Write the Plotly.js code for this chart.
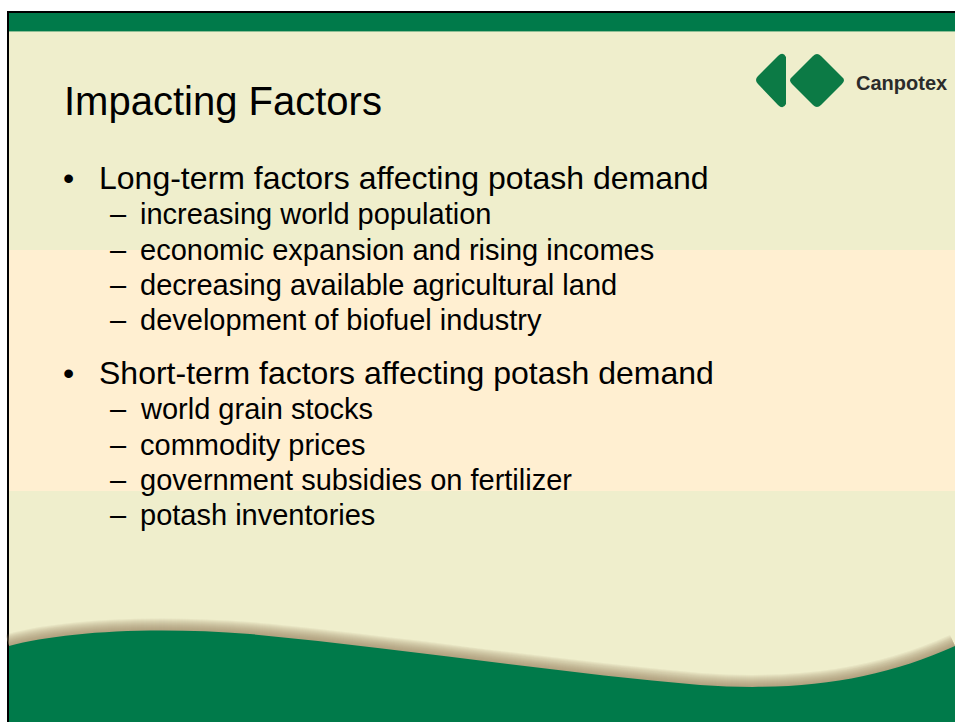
<!DOCTYPE html>
<html>
<head>
<meta charset="utf-8">
<script src="https://cdn.plot.ly/plotly-3.0.1.min.js"></script>
<style>
html,body{margin:0;padding:0;background:#fff;}
#slide{width:955px;height:722px;}
</style>
</head>
<body>
<div id="slide"></div>
<script>
// ---- content (data) ----
const slideTitle = "Impacting Factors";
const brandName = "Canpotex";
const groupHeadings = [
  "Long-term factors affecting potash demand",
  "Short-term factors affecting potash demand"
];
const longTermFactors = [
  "increasing world population",
  "economic expansion and rising incomes",
  "decreasing available agricultural land",
  "development of biofuel industry"
];
const shortTermFactors = [
  "world grain stocks",
  "commodity prices",
  "government subsidies on fertilizer",
  "potash inventories"
];
const factorGroups = [longTermFactors, shortTermFactors];

// ---- styling / layout ----
const FONT = "Liberation Sans, Arial, Helvetica, sans-serif";
const CREAM = "#EFEECC";
const BAND = "#FFEFD1";
const GREEN = "#007A4A";
const LOGO_GREEN = "#0C7A45";

function centerFromBaseline(b, s){ return b - 0.347 * s; }

const annotations = [];
function addText(txt, x, baseline, size, opts){
  opts = opts || {};
  annotations.push({
    xref:'x', yref:'y', x:x, y:centerFromBaseline(baseline, size),
    xanchor:'left', yanchor:'middle', showarrow:false,
    text: opts.bold ? '<b>'+txt+'</b>' : txt,
    font:{family:FONT, size:size, color: opts.color || '#000000'}
  });
}

addText(slideTitle, 62, 115, 40);
addText(brandName, 854, 90, 20, {bold:true, color:'#2b2b2b'});

const headBaselines = [189, 384];
const subStep = 35.3;
groupHeadings.forEach(function(h, gi){
  const b = headBaselines[gi];
  addText('\u2022', 61, b, 32);
  addText(h, 97, b, 32);
  factorGroups[gi].forEach(function(item, i){
    const sb = b + subStep * (i + 1);
    addText('\u2013', 108, sb, 29);
    addText(item, 138, sb, 29);
  });
});

const wavePath = "M 9 646 C 60 632, 150 626, 250 634 C 400 648, 550 672, 700 685 C 800 692, 880 680, 955 646";
const shapes = [
  // slide background
  {type:'rect', xref:'x', yref:'y', x0:9, x1:956, y0:13, y1:723, fillcolor:CREAM, line:{width:0}},
  // highlight band
  {type:'rect', xref:'x', yref:'y', x0:9, x1:956, y0:250, y1:491, fillcolor:BAND, line:{width:0}},
  // top green bar
  {type:'rect', xref:'x', yref:'y', x0:9, x1:956, y0:13, y1:31, fillcolor:GREEN, line:{width:0}},
  {type:'line', xref:'x', yref:'y', x0:9, x1:956, y0:31.5, y1:31.5, line:{color:'#8DBE94', width:1}},
  // borders
  {type:'line', xref:'x', yref:'y', x0:8, x1:8, y0:11, y1:723, line:{color:'#000', width:2}},
  {type:'line', xref:'x', yref:'y', x0:7, x1:956, y0:12, y1:12, line:{color:'#000', width:2}}
];
// soft wave shadow: stacked strokes, darker near the edge
for (let w = 24; w >= 2; w -= 2) {
  shapes.push({type:'path', xref:'x', yref:'y', path: wavePath,
    line:{color:'rgba(150,128,100,0.09)', width:w}});
}
shapes.push(
  // wave green
  {type:'path', xref:'x', yref:'y', path: wavePath + " L 956 723 L 9 723 Z", fillcolor:GREEN, line:{width:0}},
  // logo left shape
  {type:'path', xref:'x', yref:'y', path:"M 778 56 Q 783 51 786 57 L 786 104 Q 783 110 778 105 L 758 84 Q 754 80 758 76 Z", fillcolor:LOGO_GREEN, line:{width:0}},
  // logo diamond
  {type:'path', xref:'x', yref:'y', path:"M 813 56 Q 817 52 821 56 L 842 77 Q 846 80 842 84 L 821 105 Q 817 109 813 105 L 792 84 Q 788 80 792 77 Z", fillcolor:LOGO_GREEN, line:{width:0}}
);

const layout = {
  width:955, height:722,
  margin:{l:0, r:0, t:0, b:0, pad:0},
  paper_bgcolor:'#ffffff', plot_bgcolor:'rgba(0,0,0,0)',
  xaxis:{range:[0,955], visible:false, fixedrange:true},
  yaxis:{range:[722,0], visible:false, fixedrange:true},
  showlegend:false,
  shapes:shapes,
  annotations:annotations
};

Plotly.newPlot('slide', [{type:'scatter', x:[], y:[], mode:'markers', hoverinfo:'skip'}], layout, {displayModeBar:false, staticPlot:true});
</script>
</body>
</html>
